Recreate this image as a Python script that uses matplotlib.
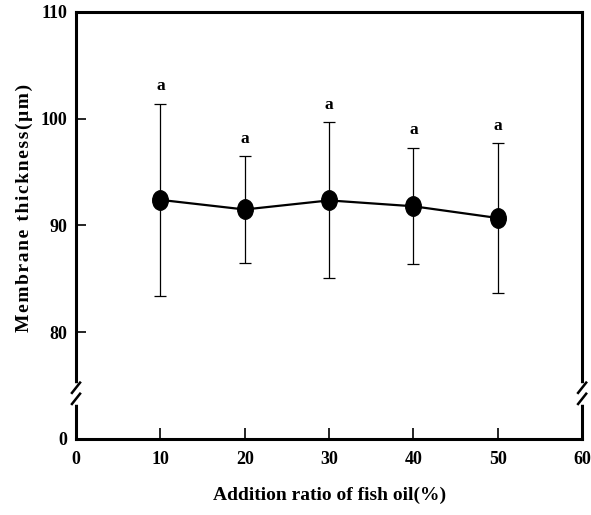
import matplotlib
matplotlib.use('Agg')
import matplotlib.pyplot as plt
from matplotlib.path import Path

# fish oil addition ratio (%) vs membrane thickness (um), mean +- SD
ratio = [10, 20, 30, 40, 50]
thickness = [92.4, 91.5, 92.35, 91.8, 90.7]
sd = [9.0, 5.0, 7.3, 5.45, 7.0]
groups = ['a', 'a', 'a', 'a', 'a']

x_ticks = [0, 10, 20, 30, 40, 50, 60]
y_ticks = [70, 80, 90, 100, 110]
y_ticklabels = ['0', '80', '90', '100', '110']

plt.rcParams['font.family'] = ['Liberation Serif', 'DejaVu Serif']
plt.rcParams['font.weight'] = 'bold'

# slightly tall oval marker
circ = Path.unit_circle()
oval = Path(circ.vertices * [0.8, 1.0], circ.codes)

fig = plt.figure(figsize=(5.91, 5.15), dpi=100)
ax = fig.add_axes([0.1286, 0.1476, 0.8564, 0.8291])

ax.errorbar(ratio, thickness, yerr=sd, fmt='none', ecolor='black',
            elinewidth=0.9, capsize=4, capthick=0.9, zorder=2)
ax.plot(ratio, thickness, color='black', linewidth=1.6, marker=oval,
        markersize=14, zorder=3)

for x, y, e, g in zip(ratio, thickness, sd, groups):
    ax.text(x, y + e + 0.9, g, ha='center', va='bottom', fontsize=12.5,
            fontweight='bold')

ax.set_xlim(0, 60)
ax.set_ylim(70, 110)
ax.set_xticks(x_ticks)
ax.set_yticks(y_ticks)
ax.set_yticklabels(y_ticklabels)
ax.tick_params(axis='x', direction='in', length=8, width=1.2, pad=9, labelsize=13)
ax.tick_params(axis='y', direction='in', length=7, width=1.2, pad=6, labelsize=13)

for sp in ax.spines.values():
    sp.set_linewidth(2.2)

ax.set_xlabel('Addition ratio of fish oil(%)', fontsize=14, fontweight='bold', labelpad=13)
ylabel = '\u200a'.join('Membrane thickness(μm)')
ax.set_ylabel(ylabel, fontsize=14, fontweight='bold')
ax.yaxis.set_label_coords(-0.085, 0.54)

# axis break marks on both vertical spines
for xa in (0.0, 1.0):
    ax.plot([xa, xa], [0.086, 0.124], color='white', linewidth=4,
            transform=ax.transAxes, clip_on=False, zorder=5)
    for yb in (0.082, 0.108):
        ax.plot([xa - 0.008, xa + 0.008], [yb, yb + 0.024], color='black',
                linewidth=1.8, transform=ax.transAxes, clip_on=False, zorder=6)

fig.savefig('out.png', dpi=100)
